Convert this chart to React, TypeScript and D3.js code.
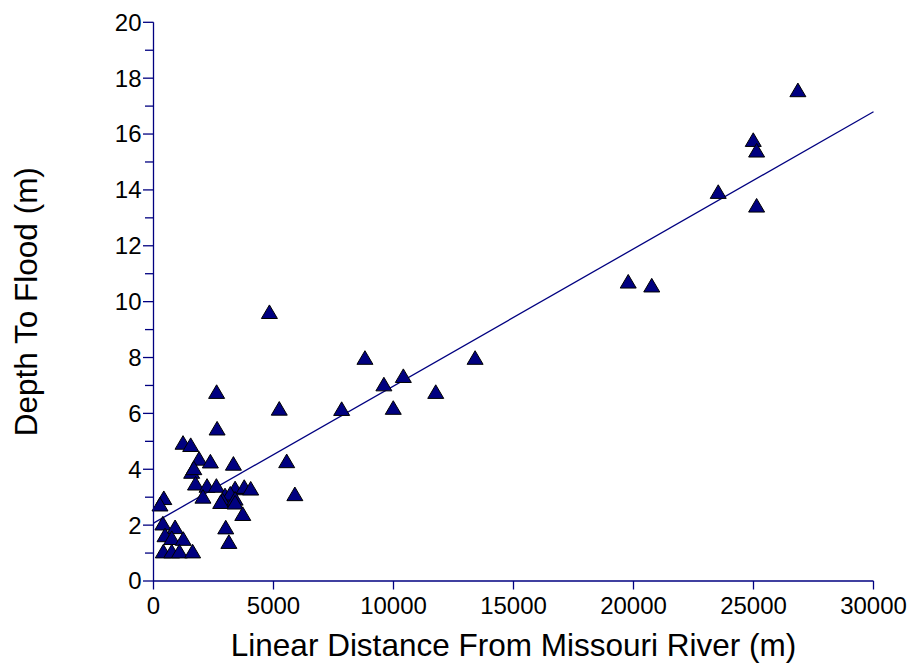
import React from "react";
import * as d3 from "d3";

const distance: number[] = [
  26850, 24990, 25130, 23530, 25130, 19780, 20760, 4830, 8810, 13400,
  10410, 9600, 11760, 2630, 5240, 7840, 9990, 2650, 1230, 1550,
  1900, 2370, 3330, 5550, 1590, 1680, 1750, 2230, 2620, 3400,
  3780, 4050, 5890, 2060, 2980, 3200, 2880, 3400, 2800, 3400,
  3720, 430, 270, 390, 900, 480, 760, 1240, 3010, 3140,
  410, 760, 1080, 1630,
];
const depth: number[] = [
  17.58, 15.8, 15.42, 13.94, 13.45, 10.73, 10.59, 9.64, 8.0, 8.0,
  7.35, 7.05, 6.78, 6.78, 6.18, 6.17, 6.21, 5.47, 4.96, 4.88,
  4.39, 4.29, 4.21, 4.3, 3.92, 4.05, 3.5, 3.42, 3.42, 3.33,
  3.38, 3.32, 3.12, 3.03, 3.08, 3.14, 2.9, 2.96, 2.84, 2.82,
  2.41, 2.98, 2.75, 2.07, 1.94, 1.65, 1.55, 1.52, 1.93, 1.41,
  1.07, 1.07, 1.07, 1.07,
];
const fitX: number[] = [0, 30000];
const fitY: number[] = [2.07, 16.8];
const xTicks: number[] = [0, 5000, 10000, 15000, 20000, 25000, 30000];
const yMajor: number[] = [0, 2, 4, 6, 8, 10, 12, 14, 16, 18, 20];
const yMinor: number[] = [1, 3, 5, 7, 9, 11, 13, 15, 17, 19];

const NAVY = "#000080";
const FONT = "'Liberation Sans', Arial, sans-serif";

export default function App() {
  const x = d3.scaleLinear().domain([0, 30000]).range([153.5, 873.5]);
  const y = d3.scaleLinear().domain([0, 20]).range([581, 22.3]);
  const line = d3
    .line<number>()
    .x((_, i) => x(fitX[i]))
    .y((d) => y(d));
  const tri = "M0,-6.8L8,6.8L-8,6.8Z";
  const x0 = x(0);
  const yb = y(0);
  return (
    <svg
      width={912}
      height={665}
      style={{ position: "absolute", left: 0, top: 0, background: "#fff" }}
      fontFamily={FONT}
    >
      <rect width={912} height={665} fill="#fff" />
      <path d={line(fitY) || ""} fill="none" stroke={NAVY} strokeWidth={1.3} />
      {distance.map((d, i) => (
        <path
          key={i}
          d={tri}
          transform={`translate(${x(d)},${y(depth[i])})`}
          fill={NAVY}
          stroke="#000"
          strokeWidth={1}
          strokeLinejoin="miter"
        />
      ))}
      <line x1={x0} x2={x0} y1={y(20)} y2={yb} stroke={NAVY} strokeWidth={1.3} />
      {yMajor.map((v) => (
        <g key={"ym" + v}>
          <line x1={x0 - 10.5} x2={x0} y1={y(v)} y2={y(v)} stroke={NAVY} strokeWidth={1.3} />
          <text x={x0 - 12} y={y(v)} dy="0.35em" textAnchor="end" fontSize={24} fill="#000">
            {v}
          </text>
        </g>
      ))}
      {yMinor.map((v) => (
        <line key={"yn" + v} x1={x0 - 8.5} x2={x0} y1={y(v)} y2={y(v)} stroke={NAVY} strokeWidth={1.3} />
      ))}
      <line x1={x0} x2={x(30000)} y1={yb} y2={yb} stroke={NAVY} strokeWidth={1.3} />
      {xTicks.map((v) => (
        <g key={"xt" + v}>
          <line x1={x(v)} x2={x(v)} y1={yb} y2={yb + 8.5} stroke={NAVY} strokeWidth={1.3} />
          <text x={x(v)} y={614} textAnchor="middle" fontSize={24} fill="#000">
            {v}
          </text>
        </g>
      ))}
      <text x={513.5} y={656} textAnchor="middle" fontSize={31.5} fill="#000">
        Linear Distance From Missouri River (m)
      </text>
      <text
        transform={`translate(37,${(y(20) + yb) / 2}) rotate(-90)`}
        textAnchor="middle"
        fontSize={31.5}
        fill="#000"
      >
        Depth To Flood (m)
      </text>
    </svg>
  );
}
